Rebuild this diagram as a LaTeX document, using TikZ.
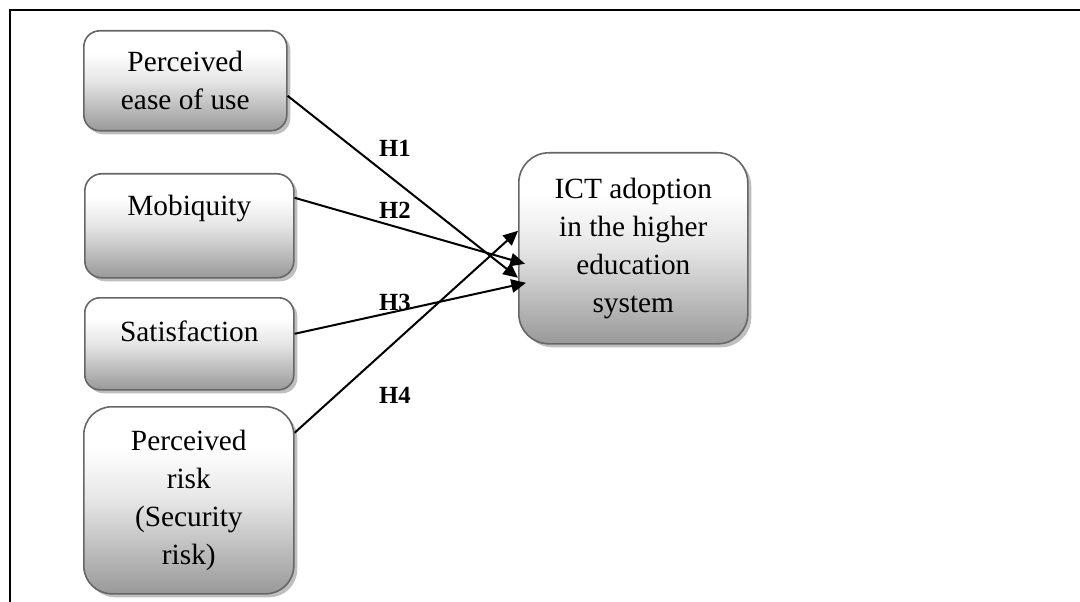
\documentclass[tikz,border=0pt]{standalone}
\usepackage{fontspec}
\setmainfont{Liberation Serif}
\usetikzlibrary{arrows.meta,calc,shadows}
\newlength\pxu
\setlength\pxu{0.75pt}
\pgfdeclareverticalshading{boxgrad}{100bp}{color(0bp)=(black!40); color(25bp)=(black!40); color(50bp)=(black!10); color(64bp)=(white); color(100bp)=(white)}
\tikzset{
  boxnode/.style={draw=black!60, line width=1.2pt, shading=boxgrad, anchor=north west,
    align=center, inner sep=2pt, font=\fontsize{22pt}{28.5pt}\selectfont,
    drop shadow={shadow xshift=3.5\pxu, shadow yshift=-3.5\pxu, fill=black!25, opacity=1}},
  hyp/.style={draw=black, line width=1.5pt, -{Triangle[length=11pt,width=10pt]}},
  hlabel/.style={font=\fontsize{18.5pt}{22pt}\selectfont\bfseries, inner sep=0pt},
  frameline/.style={draw=black, line width=1.6pt}
}
\begin{document}
\begin{tikzpicture}[x=0.75pt,y=-0.75pt]
\useasboundingbox (0,0) rectangle (1080,602);
% frame
\coordinate (fr1) at (1080,10);
\coordinate (fr2) at (10,10);
\coordinate (fr3) at (10,602);
\draw[frameline] (fr1) -- (fr2) -- (fr3);
% boxes
\node[boxnode, minimum width=203\pxu, minimum height=100\pxu, rounded corners=16\pxu] (b1) at (83,30) {Perceived\\ease of use};
\node[boxnode, minimum width=209\pxu, minimum height=104\pxu, rounded corners=17\pxu, text depth=30pt] (b2) at (84,173) {Mobiquity};
\node[boxnode, minimum width=209\pxu, minimum height=92\pxu, rounded corners=15\pxu, text depth=19pt] (b3) at (84,297) {Satisfaction};
\node[boxnode, minimum width=210\pxu, minimum height=187\pxu, rounded corners=28\pxu] (b4) at (83,406) {Perceived\\risk\\(Security\\risk)};
\node[boxnode, minimum width=229\pxu, minimum height=191\pxu, rounded corners=30\pxu] (ict) at (518,152) {ICT adoption\\in the higher\\education\\system};
% arrows
\draw[hyp] ([yshift=-15\pxu]b1.east) -- ($(ict.west)+(0,29.5)$);
\draw[hyp] ([yshift=28\pxu]b2.east) -- ($(ict.west)+(7,15.5)$);
\draw[hyp] ([yshift=10\pxu]b3.east) -- ($(ict.west)+(8,34.5)$);
\draw[hyp] ([yshift=67.5\pxu]b4.east) -- ($(ict.west)+(0,-17.5)$);
% labels
\node[hlabel] (h1) at (395,148) {H1};
\node[hlabel] (h2) at (395,210) {H2};
\node[hlabel] (h3) at (395,302) {H3};
\node[hlabel] (h4) at (395,395) {H4};
\end{tikzpicture}
\end{document}
